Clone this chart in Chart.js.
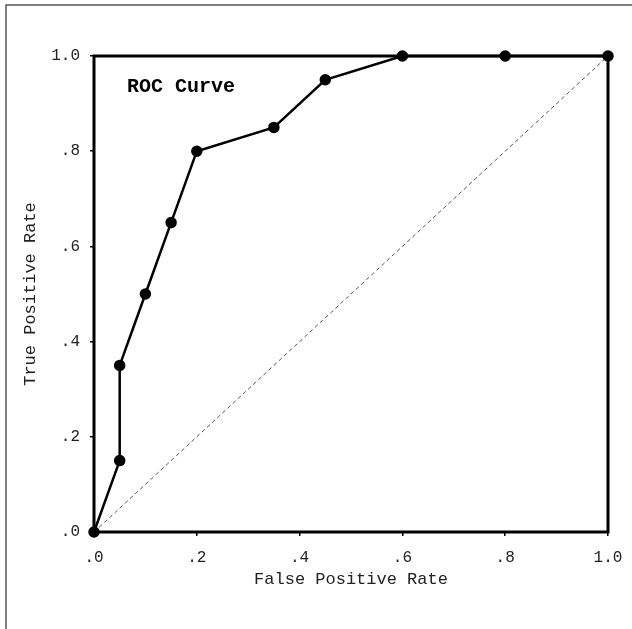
<!DOCTYPE html>
<html>
<head>
<meta charset="utf-8">
<script src="https://cdn.jsdelivr.net/npm/chart.js@4.4.1/dist/chart.umd.min.js"></script>
<style>
  html, body { margin: 0; padding: 0; background: #fff; }
  #wrap { width: 632px; height: 629px; position: relative; }
</style>
</head>
<body>
<div id="wrap"><canvas id="roc"></canvas></div>
<script>
// ROC points
const fpr = [0, 0.05, 0.05, 0.1, 0.15, 0.2, 0.35, 0.45, 0.6, 0.8, 1.0];
const tpr = [0, 0.15, 0.35, 0.5, 0.65, 0.8, 0.85, 0.95, 1.0, 1.0, 1.0];
const chance = [0, 1];
const tickValues = [0, 0.2, 0.4, 0.6, 0.8, 1.0];
const tickLabels = ['.0', '.2', '.4', '.6', '.8', '1.0'];

const mono = '"Liberation Mono", "DejaVu Sans Mono", monospace';

function fmt(v) {
  const i = tickValues.findIndex(t => Math.abs(t - v) < 1e-6);
  return i >= 0 ? tickLabels[i] : '';
}

const framePlugin = {
  id: 'frame',
  beforeDraw(chart) {
    const c = chart.ctx;
    c.save();
    c.strokeStyle = '#555';
    c.lineWidth = 1.5;
    c.beginPath();
    c.moveTo(6, chart.height);
    c.lineTo(6, 5);
    c.lineTo(chart.width, 5);
    c.stroke();
    c.restore();
  },
  afterDatasetsDraw(chart) {
    const a = chart.chartArea;
    const c = chart.ctx;
    c.save();
    c.strokeStyle = '#000';
    c.lineWidth = 3;
    c.strokeRect(a.left, a.top, a.right - a.left, a.bottom - a.top);
    c.fillStyle = '#000';
    c.font = 'bold 20px "Liberation Mono", monospace';
    c.textBaseline = 'middle';
    c.fillText('ROC Curve', a.left + 33, a.top + 31);
    c.restore();
  }
};

new Chart(document.getElementById('roc'), {
  type: 'scatter',
  data: {
    datasets: [
      {
        label: 'ROC',
        data: fpr.map((x, i) => ({ x: x, y: tpr[i] })),
        showLine: true,
        borderColor: '#000',
        backgroundColor: '#000',
        borderWidth: 2.5,
        pointRadius: 4.5,
        pointHoverRadius: 4.5,
        clip: false
      },
      {
        label: 'chance',
        data: chance.map(v => ({ x: v, y: v })),
        showLine: true,
        borderColor: '#555',
        borderWidth: 1,
        borderDash: [4, 3],
        pointRadius: 0
      }
    ]
  },
  options: {
    responsive: true,
    maintainAspectRatio: false,
    animation: false,
    layout: { padding: { left: 14, right: 24, top: 56, bottom: 37 } },
    plugins: {
      legend: { display: false },
      tooltip: { enabled: false }
    },
    scales: {
      x: {
        type: 'linear',
        min: 0,
        max: 1,
        afterFit(s) { s.height = 60; s.paddingLeft = 0; s.paddingRight = 0; },
        afterBuildTicks(s) { s.ticks = tickValues.map(v => ({ value: v })); },
        grid: { drawOnChartArea: false, tickLength: 4, color: '#000', lineWidth: 1.5 },
        border: { display: false },
        ticks: {
          callback: fmt,
          color: '#222',
          font: { family: mono, size: 16 },
          padding: 12,
          maxRotation: 0
        },
        title: {
          display: true,
          text: 'False Positive Rate',
          color: '#222',
          font: { family: mono, size: 17 },
          padding: { top: 4, bottom: 2 }
        }
      },
      y: {
        type: 'linear',
        min: 0,
        max: 1,
        afterFit(s) { s.width = 80; s.paddingTop = 0; s.paddingBottom = 0; },
        afterBuildTicks(s) { s.ticks = tickValues.map(v => ({ value: v })); },
        grid: { drawOnChartArea: false, tickLength: 4, color: '#000', lineWidth: 1.5 },
        border: { display: false },
        ticks: {
          callback: fmt,
          color: '#222',
          font: { family: mono, size: 16 },
          padding: 10
        },
        title: {
          display: true,
          text: 'True Positive Rate',
          color: '#222',
          font: { family: mono, size: 17 },
          padding: { top: 6, bottom: 0 }
        }
      }
    }
  },
  plugins: [framePlugin]
});
</script>
</body>
</html>
